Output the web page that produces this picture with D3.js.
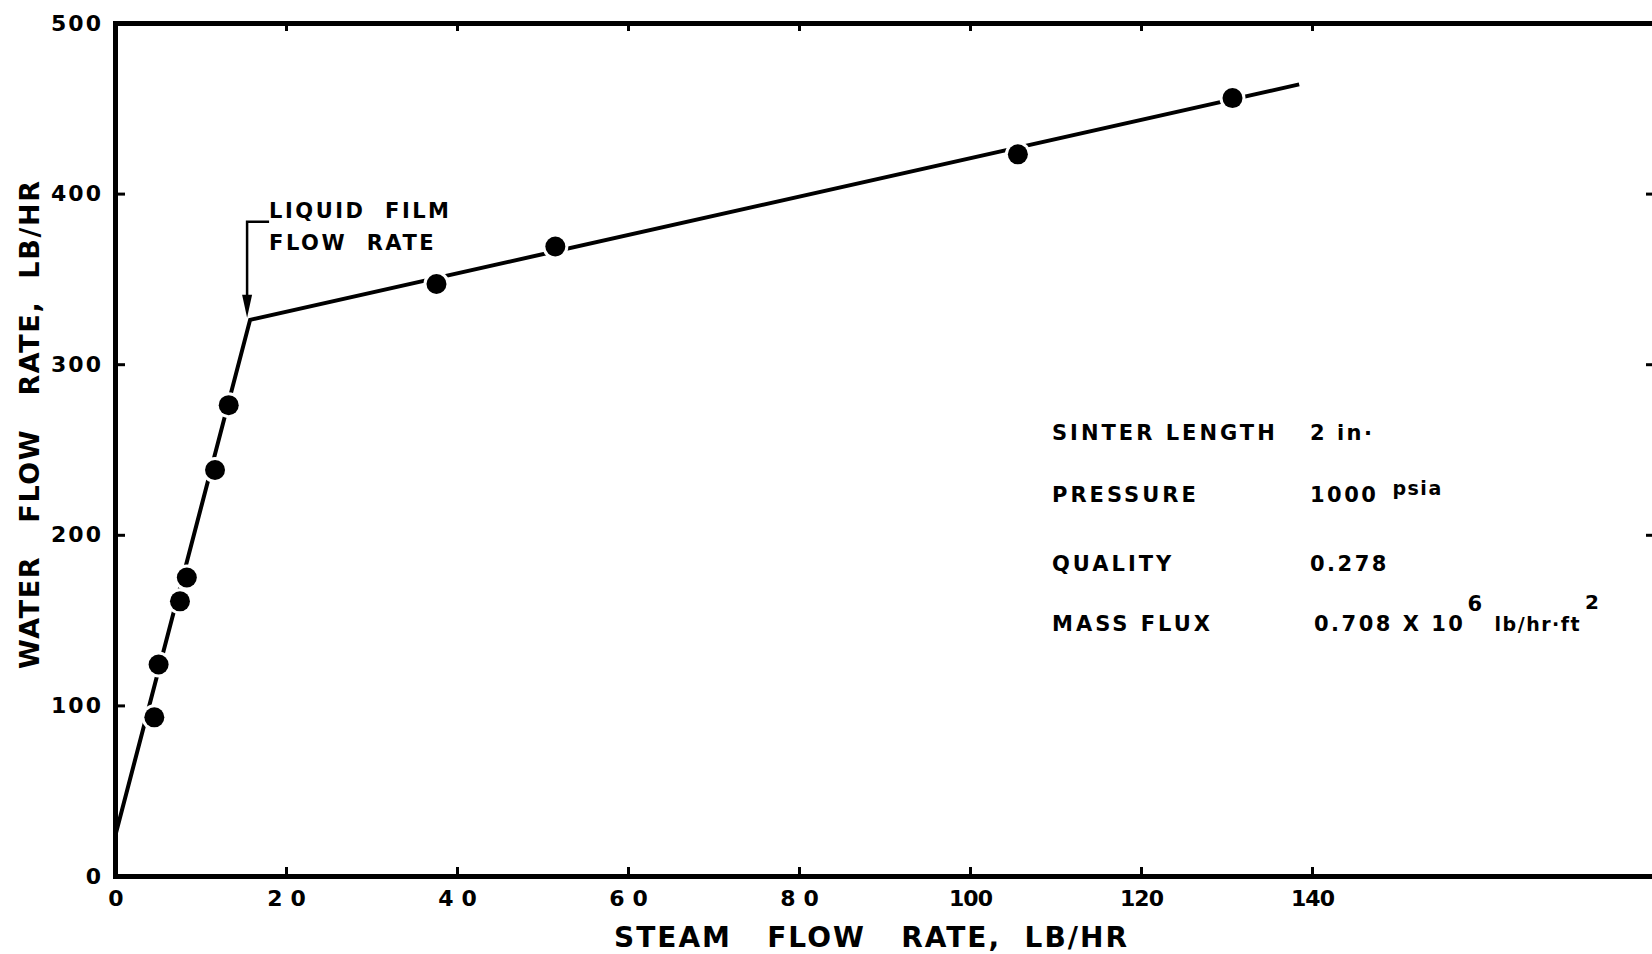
<!DOCTYPE html>
<html>
<head>
<meta charset="utf-8">
<script src="https://cdn.jsdelivr.net/npm/d3@7"></script>
<style>
  body { margin: 0; background: #fff; }
  svg { display: block; font-family: 'DejaVu Sans', sans-serif; font-weight: bold; }
</style>
</head>
<body>
<div id="main"></div>
<script>
// measured points: steam flow (lb/hr) vs water flow (lb/hr)
var steam = [4.6, 5.1, 7.6, 8.4, 11.7, 13.3, 37.6, 51.5, 105.6, 130.7];
var water = [93, 124, 161, 175, 238, 276, 347, 369, 423, 456];

// fitted lines (two straight pieces meeting at the liquid film flow rate)
var fitSteam = [0, 15.8, 138.5];
var fitWater = [23, 326, 464];

var xTicks = [0, 20, 40, 60, 80, 100, 120, 140];
var yTicks = [0, 100, 200, 300, 400, 500];

var infoLabels = ['SINTER LENGTH', 'PRESSURE', 'QUALITY', 'MASS FLUX'];
var infoValues = ['2 in·', '1000', '0.278', '0.708 X 10'];

var width = 1652, height = 954;

var svg = d3.select('#main')
  .append('svg')
  .attr('width', width)
  .attr('height', height);

var x = d3.scaleLinear().domain([0, 180]).range([115, 1654]);
var y = d3.scaleLinear().domain([0, 500]).range([876, 23]);

function styleAxis(g, lw) {
  g.select('.domain').attr('stroke-width', lw).attr('stroke-linecap', 'square');
  g.selectAll('.tick line').attr('stroke-width', 3);
  g.selectAll('text').attr('fill', '#000').attr('font-family', "'DejaVu Sans', sans-serif").attr('font-weight', 'bold');
}

// bottom axis
var gx = svg.append('g')
  .attr('transform', 'translate(0,' + y(0) + ')')
  .call(d3.axisBottom(x).tickValues(xTicks).tickSizeInner(-9).tickSizeOuter(0).tickPadding(14));
styleAxis(gx, 5);
gx.selectAll('.tick').filter(function(d) { return d === 0; }).select('line').remove();
gx.selectAll('text')
  .attr('font-size', 22)
  .style('letter-spacing', function(d) { return (d > 0 && d < 100) ? '8px' : '-1px'; })
  .attr('dx', function(d) { return (d > 0 && d < 100) ? 4 : 0; });

// top axis
var gt = svg.append('g')
  .attr('transform', 'translate(0,' + y(500) + ')')
  .call(d3.axisTop(x).tickValues(xTicks.slice(1)).tickSizeInner(-8).tickSizeOuter(0).tickFormat(''));
styleAxis(gt, 5);

// left axis
var gy = svg.append('g')
  .attr('transform', 'translate(' + x(0) + ',0)')
  .call(d3.axisLeft(y).tickValues(yTicks).tickSizeInner(-10).tickSizeOuter(0).tickPadding(12));
styleAxis(gy, 5);
gy.selectAll('.tick').filter(function(d) { return d === 0 || d === 500; }).select('line').remove();
gy.selectAll('text').attr('font-size', 22).style('letter-spacing', '2px');

// right edge ticks (axis lies beyond the picture)
var gr = svg.append('g')
  .attr('transform', 'translate(' + width + ',0)')
  .call(d3.axisRight(y).tickValues([200, 300, 400]).tickSizeInner(-6).tickSizeOuter(0).tickFormat(''));
gr.select('.domain').remove();
gr.selectAll('.tick line').attr('stroke-width', 3);

// fitted line
var fit = fitSteam.map(function(d, i) { return [d, fitWater[i]]; });
svg.append('path')
  .datum(fit)
  .attr('fill', 'none')
  .attr('stroke', '#000')
  .attr('stroke-width', 4)
  .attr('stroke-linejoin', 'miter')
  .attr('d', d3.line().x(function(d) { return x(d[0]); }).y(function(d) { return y(d[1]); }));

var pts = steam.map(function(d, i) { return { s: d, w: water[i] }; });

// white halo gaps where the line meets a dot
svg.append('g').selectAll('circle')
  .data(pts)
  .enter()
  .append('circle')
  .attr('cx', function(d) { return x(d.s); })
  .attr('cy', function(d) { return y(d.w); })
  .attr('r', 13)
  .attr('fill', '#fff');

svg.append('g').selectAll('circle')
  .data(pts)
  .enter()
  .append('circle')
  .attr('cx', function(d) { return x(d.s); })
  .attr('cy', function(d) { return y(d.w); })
  .attr('r', 10)
  .attr('fill', '#000');

// annotation: liquid film flow rate
var kx = x(fitSteam[1]) - 3, ky = y(fitWater[1]);
svg.append('path')
  .attr('d', 'M' + (kx + 22) + ',' + (ky - 98) + 'H' + kx + 'V' + (ky - 22))
  .attr('fill', 'none')
  .attr('stroke', '#000')
  .attr('stroke-width', 2.5);
svg.append('path')
  .attr('d', 'M' + (kx - 5) + ',' + (ky - 25) + 'L' + (kx + 5) + ',' + (ky - 25) + 'L' + kx + ',' + (ky - 2) + 'Z')
  .attr('fill', '#000');
svg.append('text')
  .attr('x', kx + 22).attr('y', ky - 102)
  .attr('font-size', 21).style('letter-spacing', '2.5px')
  .text('LIQUID  FILM').style('white-space', 'pre');
svg.append('text')
  .attr('x', kx + 22).attr('y', ky - 70)
  .attr('font-size', 21).style('letter-spacing', '2.5px')
  .text('FLOW  RATE').style('white-space', 'pre');

// axis titles
svg.append('text')
  .attr('x', 614).attr('y', 947)
  .attr('font-size', 28)
  .attr('textLength', 513).attr('lengthAdjust', 'spacing')
  .style('white-space', 'pre')
  .text('STEAM   FLOW   RATE,  LB/HR');

svg.append('text')
  .attr('transform', 'translate(39,669) rotate(-90)')
  .attr('font-size', 27)
  .attr('textLength', 488).attr('lengthAdjust', 'spacing')
  .style('white-space', 'pre')
  .text('WATER   FLOW   RATE,  LB/HR');

// test conditions
var rowY = [440, 502, 571, 631];
var info = svg.append('g').attr('font-size', 21).style('letter-spacing', '3px');
info.selectAll('text.lab')
  .data(infoLabels)
  .enter()
  .append('text')
  .attr('class', 'lab')
  .attr('x', 1052)
  .attr('y', function(d, i) { return rowY[i]; })
  .text(function(d) { return d; });

info.selectAll('text.val')
  .data(infoValues)
  .enter()
  .append('text')
  .attr('class', 'val')
  .attr('x', function(d, i) { return i === 3 ? 1314 : 1310; })
  .attr('y', function(d, i) { return rowY[i]; })
  .style('white-space', 'pre')
  .style('letter-spacing', '2.5px')
  .each(function(d, i) {
    var t = d3.select(this);
    t.append('tspan').text(d);
    if (i === 1) {
      t.append('tspan').attr('dx', 14).attr('dy', -7).attr('font-size', 19).style('letter-spacing', '1.5px').text('psia');
    }
    if (i === 3) {
      t.append('tspan').attr('dx', 2).attr('dy', -20).attr('font-size', 21).text('6');
      t.append('tspan').attr('dx', 10).attr('dy', 20).attr('font-size', 19).style('letter-spacing', '1.5px').text('lb/hr·ft');
      t.append('tspan').attr('dx', 4).attr('dy', -22).attr('font-size', 20).text('2');
    }
  });
</script>
</body>
</html>
